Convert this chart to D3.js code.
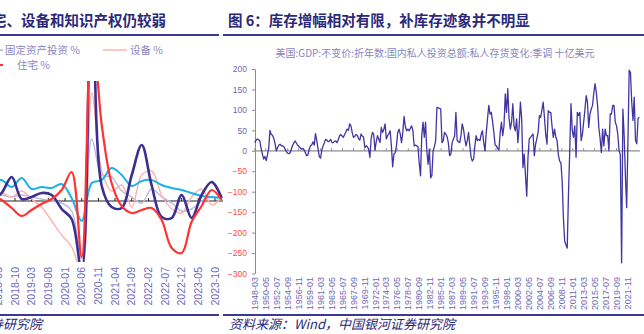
<!DOCTYPE html>
<html>
<head>
<meta charset="utf-8">
<script src="https://cdn.jsdelivr.net/npm/d3@7"></script>
<style>
  body { margin: 0; background: #fff; }
  svg { display: block; }
  text { font-family: "Liberation Sans", "Noto Sans CJK SC", sans-serif; }
</style>
</head>
<body>
<svg id="chart" width="644" height="334"></svg>
<script>

// ---- left panel (cut off by the crop): quarterly growth, %
var leftDates = ["2018-03","2018-06","2018-09","2018-12","2019-03","2019-06","2019-09","2019-12",
  "2020-03","2020-06","2020-09","2020-12","2021-03","2021-06","2021-09","2021-12",
  "2022-03","2022-06","2022-09","2022-12","2023-03","2023-06","2023-09","2023-12"];
var leftTicks = ["2018-05","2018-10","2019-03","2019-08","2020-01","2020-06","2020-11",
  "2021-04","2021-09","2022-02","2022-07","2022-12","2023-05","2023-10"];
var fixedInv   = [3, 3, 2, 3, 2, 1, 0, -1, -5, -29, 31, 13, 12, 5, 2, -1, 6, 2, -1, -5, -4, 0, 2, 1.5];
var equipment  = [2, 4, 2, 5, 1, -3, -10, -17, -23, -35, 54, 15, 5, 8, -3, 13, 15, 3, -4, -6, 2, 6, -2, 2];
var ipProducts = [10.5, 10.5, 7, 11.5, 6, 7, 6.5, 8.5, 1.5, -10, 9, 10.5, 16.5, 13, 7.5, 10, 10.5, 8, 6.5, 5.5, 4, 2.5, 2, 1.5];
var privateInv = [0, 4, 12, 1, 2, 4, 3, -4, -9, -35, 120, 7.5, -3, -3.5, 13, 28, 8, -8, -8.5, 3, -8.5, 3, 9.5, 1.5];
var residential = [3, 0.5, -3.5, -7.5, -4.5, -1.5, 1, 5.5, 14.5, -28, 90, 38, 9, -2.5, -6, -4.5, -3.5, -9.5, -23.5, -26, -10.5, -2.5, 5.5, 0.5];

// ---- right panel: US private inventory change, SAAR, bn USD (quarterly from 1948-03)
var invStart = "1948-03";
var invEnd = "2024-03";
var inventory = [
  20, 26, 29, 27, 24, 5, -8, -20, -14, -24,
  -10, 6, 50, 40, 38, 30, 18, 0, 8, 14,
  16, 12, 12, 10, 4, -2, -6, -7, -4, 5,
  14, 20, 24, 18, 13, 10, 7, 4, 6, 2,
  -5, -12, -10, 4, 12, 14, 22, 14, 42, 25,
  4, -14, -18, 2, 12, 20, 28, 26, 22, 24,
  28, 20, 20, 23, 24, 20, 27, 37, 40, 36,
  33, 40, 46, 53, 50, 66, 61, 45, 33, 35,
  40, 38, 30, 26, 41, 36, 33, 8, 12, 10,
  4, -16, 30, 45, 41, 2, 22, 37, 28, 20,
  57, 45, 52, 66, 29, 37, 42, 49, 12, -39,
  -8, -5, 12, 45, 53, 41, 20, 45, 84, 60,
  49, 53, 49, 55, 61, 49, 12, 14, 12, 10,
  -30, -61, 37, 70, 33, 70, 0, -33, 4, -66,
  -61, 0, 10, 25, 106, 105, 104, 102, 20, 25,
  45, 41, 35, 20, -12, -8, 20, 28, 37, 94,
  25, 22, 20, 37, 66, 53, 30, 12, 25, 45,
  12, -16, -25, -20, 12, 37, 25, 28, 25, 41,
  49, 20, 0, 45, 78, 111, 90, 94, 72, 45,
  14, 12, 6, 2, 45, 70, 37, 60, 139, 94,
  152, 80, 53, 70, 115, 60, 49, 78, 20, 60,
  119, 78, -41, -8, -60, -111, -16, 29, 33, 37,
  41, -12, 16, 30, 45, 86, 82, 100, 119, 82,
  40, 16, 98, 94, 94, 60, 33, 53, 33, 25,
  -10, -25, -29, -74, -164, -221, -230, -238, -106, 0,
  115, 50, 33, 61, -16, 94, 86, 94, 25, 40,
  70, 100, 135, 119, 57, 90, 102, 111, 140, 164,
  143, 111, 57, 30, -4, 53, 12, 53, 37, 37,
  0, 90, 90, 111, 111, 70, 61, 40, 0, -10,
  -274, 102, 40, -60, -139, 20, 197, 192, 120, 74,
  131, 25, 17, 79, 82
];
var invTicks = ["1948-03","1950-05","1952-07","1954-09","1956-11","1959-01","1961-03","1963-05",
  "1965-07","1967-09","1969-11","1972-01","1974-03","1976-05","1978-07","1980-09","1982-11",
  "1985-01","1987-03","1989-05","1991-07","1993-09","1995-11","1998-01","2000-03","2002-05",
  "2004-07","2006-09","2008-11","2011-01","2013-03","2015-05","2017-07","2019-09","2021-11"];
var invYTicks = [200, 150, 100, 50, 0, -50, -100, -150, -200, -250, -300];

var parseMonth = d3.timeParse("%Y-%m");
var navy = "#2c2878";
var labelBlue = "#6d69b8";
var legendGrey = "#8a86bc";
var cjk = "'Noto Sans CJK SC', sans-serif";

var svg = d3.select("#chart");

// rules under the titles and above the source lines
[[0, 219], [223, 644]].forEach(function(r) {
  svg.append("line").attr("x1", r[0]).attr("x2", r[1]).attr("y1", 35).attr("y2", 35)
    .attr("stroke", "#3d3893").attr("stroke-width", 2);
  svg.append("line").attr("x1", r[0]).attr("x2", r[1]).attr("y1", 315).attr("y2", 315)
    .attr("stroke", "#3d3893").attr("stroke-width", 2);
});

// titles
svg.append("text").attr("x", 166).attr("y", 26).attr("text-anchor", "end")
  .style("font-family", cjk).attr("font-size", "14.5px").attr("font-weight", "bold")
  .attr("fill", navy).text("投资中住宅、设备和知识产权仍较弱");
svg.append("text").attr("x", 228).attr("y", 26)
  .style("font-family", cjk).attr("font-size", "14.5px").attr("font-weight", "bold")
  .attr("fill", navy).text("图 6：库存增幅相对有限，补库存迹象并不明显");

// sources
svg.append("text").attr("x", 42).attr("y", 329).attr("text-anchor", "end")
  .style("font-family", cjk).attr("font-size", "13px").attr("font-style", "italic")
  .attr("fill", navy).text("中国银河证券研究院");
svg.append("text").attr("x", 229).attr("y", 329)
  .style("font-family", cjk).attr("font-size", "13px").attr("font-style", "italic")
  .attr("fill", navy).text("资料来源：Wind，中国银河证券研究院");

// ================= left panel =================
var xL = d3.scaleTime()
  .domain([parseMonth("2018-10"), parseMonth("2023-10")])
  .range([15, 215]);
var yL = d3.scaleLinear().domain([-30, 60]).range([261, 81]);

svg.append("clipPath").attr("id", "clipL")
  .append("rect").attr("x", -20).attr("y", 81).attr("width", 244).attr("height", 181);

// legend
svg.append("line").attr("x1", -20).attr("x2", 3).attr("y1", 50).attr("y2", 50)
  .attr("stroke", "#b9b5de").attr("stroke-width", 1.5);
svg.append("text").attr("x", 5).attr("y", 54).style("font-family", cjk)
  .attr("font-size", "10.5px").attr("fill", legendGrey).text("固定资产投资 %");
svg.append("line").attr("x1", 103).attr("x2", 127).attr("y1", 50).attr("y2", 50)
  .attr("stroke", "#ffb3b3").attr("stroke-width", 1.5);
svg.append("text").attr("x", 130).attr("y", 54).style("font-family", cjk)
  .attr("font-size", "10.5px").attr("fill", legendGrey).text("设备 %");
svg.append("line").attr("x1", -20).attr("x2", 3).attr("y1", 65).attr("y2", 65)
  .attr("stroke", "#ff3333").attr("stroke-width", 2);
svg.append("text").attr("x", 17).attr("y", 69).style("font-family", cjk)
  .attr("font-size", "10.5px").attr("fill", legendGrey).text("住宅 %");

// zero axis with upward ticks
var gL = svg.append("g");
gL.append("line").attr("x1", 0).attr("x2", 223).attr("y1", yL(0)).attr("y2", yL(0))
  .attr("stroke", "#222").attr("stroke-width", 1.2);
gL.selectAll(".tickL").data(leftTicks).enter().append("line")
  .attr("x1", function(d) { return xL(parseMonth(d)); })
  .attr("x2", function(d) { return xL(parseMonth(d)); })
  .attr("y1", yL(0)).attr("y2", yL(0) - 3)
  .attr("stroke", "#222").attr("stroke-width", 1);
gL.selectAll(".labL").data(leftTicks).enter().append("text")
  .attr("transform", function(d) { return "translate(" + xL(parseMonth(d)) + ",267) rotate(-90)"; })
  .attr("text-anchor", "end").attr("dy", "0.35em")
  .attr("font-size", "10.5px").attr("fill", labelBlue)
  .text(function(d) { return d; });

var lineL = d3.line()
  .x(function(d, i) { return xL(parseMonth(leftDates[i])); })
  .y(function(d) { return yL(d); })
  .curve(d3.curveCatmullRom);

var leftSeries = [
  { values: fixedInv, color: "#bdb9e1", width: 1.4 },
  { values: equipment, color: "#ffb0b0", width: 1.4 },
  { values: ipProducts, color: "#19b1ea", width: 2 },
  { values: privateInv, color: "#3b2f92", width: 2.6 },
  { values: residential, color: "#ff3232", width: 2.2 }
];
svg.append("g").attr("clip-path", "url(#clipL)")
  .selectAll("path").data(leftSeries).enter().append("path")
  .attr("d", function(s) { return lineL(s.values); })
  .attr("fill", "none")
  .attr("stroke", function(s) { return s.color; })
  .attr("stroke-width", function(s) { return s.width; });

// ================= right panel =================
var startDate = parseMonth(invStart);
var invDates = inventory.map(function(d, i) { return d3.timeMonth.offset(startDate, 3 * i); });

var xR = d3.scaleTime()
  .domain([startDate, parseMonth(invEnd)])
  .range([254.8, 639.3]);
var yR = d3.scaleLinear().domain([-300, 200]).range([273.5, 69]);

svg.append("text").attr("x", 435).attr("y", 57).attr("text-anchor", "middle")
  .style("font-family", cjk).attr("font-size", "10px").attr("fill", legendGrey)
  .text("美国:GDP:不变价:折年数:国内私人投资总额:私人存货变化:季调 十亿美元");

var yAxisR = svg.append("g")
  .attr("transform", "translate(255,0)")
  .call(d3.axisLeft(yR).tickValues(invYTicks).tickSize(3).tickPadding(5).tickSizeOuter(0));
yAxisR.select(".domain").attr("stroke", "#8c8c8c");
yAxisR.selectAll(".tick line").attr("stroke", "#8c8c8c");
yAxisR.selectAll(".tick text")
  .attr("font-family", "'Liberation Sans', sans-serif")
  .attr("font-size", "8.5px")
  .attr("fill", function(d) { return d < 0 ? "#ff4a4a" : labelBlue; });

var gR = svg.append("g");
gR.append("line").attr("x1", 255).attr("x2", 640).attr("y1", yR(0)).attr("y2", yR(0))
  .attr("stroke", "#8c8c8c").attr("stroke-width", 1.2);
gR.selectAll(".tickR").data(invTicks).enter().append("line")
  .attr("x1", function(d) { return xR(parseMonth(d)); })
  .attr("x2", function(d) { return xR(parseMonth(d)); })
  .attr("y1", yR(0)).attr("y2", yR(0) - 2.5)
  .attr("stroke", "#8c8c8c").attr("stroke-width", 1);
gR.selectAll(".labR").data(invTicks).enter().append("text")
  .attr("transform", function(d) { return "translate(" + xR(parseMonth(d)) + ",277) rotate(-90)"; })
  .attr("text-anchor", "end").attr("dy", "0.35em")
  .attr("font-size", "9px").attr("fill", labelBlue)
  .text(function(d) { return d; });

var lineR = d3.line()
  .x(function(d, i) { return xR(invDates[i]); })
  .y(function(d) { return yR(d); });

svg.append("path")
  .attr("d", lineR(inventory))
  .attr("fill", "none")
  .attr("stroke", "#4036a3")
  .attr("stroke-width", 1.3)
  .attr("stroke-linejoin", "round");

</script>
</body>
</html>
